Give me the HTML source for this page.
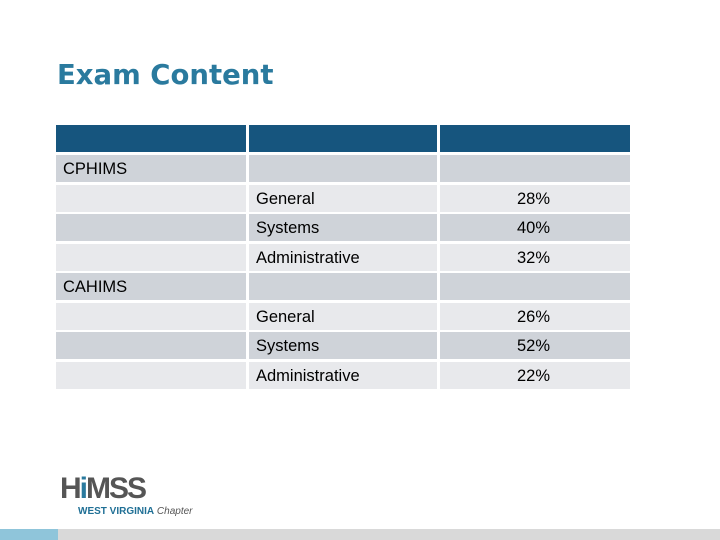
<!DOCTYPE html>
<html><head><meta charset="utf-8"><style>
body{margin:0;width:720px;height:540px;background:#fff;position:relative;overflow:hidden;font-family:"Liberation Sans",Arial,sans-serif}
.t{position:absolute;left:57px;top:59px;font-size:27.5px;font-weight:bold;color:#2a7a9e;font-family:"DejaVu Sans",sans-serif}
.c{position:absolute;height:27px;line-height:28px;font-size:16.5px;color:#000;box-sizing:border-box;padding-left:7px}
.h{background:#16557e}.d{background:#cfd3d9}.l{background:#e8e9ec}
</style></head><body>
<div class="t">Exam Content</div>
<div id="tbl"></div>
<div style="position:absolute;left:60px;top:474px;width:170px;height:48px">
<div style="font-size:30px;font-weight:bold;color:#555;letter-spacing:-2px;line-height:30px;font-family:'Liberation Sans',sans-serif">H<span style="color:#2a7a9e">i</span>MSS</div>
<div style="position:absolute;left:18px;top:32px;font-size:10px;white-space:nowrap"><b style="color:#1f6f95">WEST VIRGINIA</b> <i style="color:#555">Chapter</i></div>
</div>
<div style="position:absolute;left:0;top:529px;width:720px;height:11px;background:#d9d9d9"></div>
<div style="position:absolute;left:0;top:529px;width:58px;height:11px;background:#8fc5da"></div>
<script>
const rows=[["","",""],["CPHIMS","",""],["","General","28%"],["","Systems","40%"],["","Administrative","32%"],["CAHIMS","",""],["","General","26%"],["","Systems","52%"],["","Administrative","22%"]];
const cols=[[56,190],[249,188],[440,190]];
const tbl=document.getElementById('tbl');
rows.forEach((r,i)=>{
 const top=i===0?125:155+(i-1)*29.5;
 const cls=i===0?'h':(i%2===1?'d':'l');
 r.forEach((txt,j)=>{
  const el=document.createElement('div');
  el.className='c '+cls;
  el.style.left=cols[j][0]+'px';el.style.width=cols[j][1]+'px';el.style.top=top+'px';
  if(j===2)el.style.paddingLeft='77px';
  el.textContent=txt;
  
  
  tbl.appendChild(el);
 });
});
</script>
</body></html>
